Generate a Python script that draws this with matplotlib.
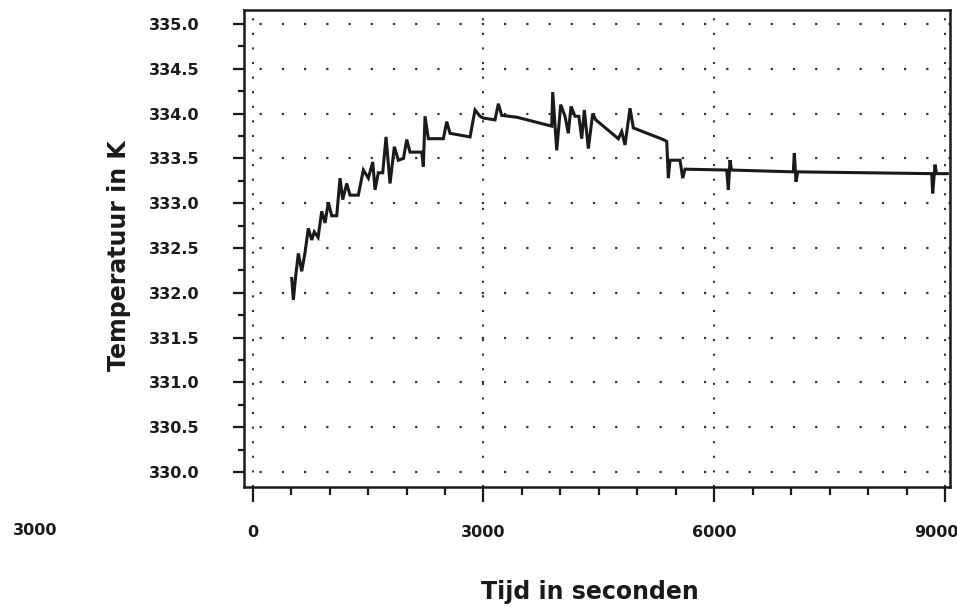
import matplotlib
matplotlib.use('Agg')
from matplotlib import pyplot as plt
from matplotlib.ticker import MultipleLocator, FixedLocator
from matplotlib.transforms import ScaledTranslation

time_s = [507, 528, 560, 593, 637, 680, 723, 767, 800, 850, 897, 940, 983, 1027,
          1092, 1135, 1170, 1222, 1265, 1373, 1438, 1503, 1560, 1590, 1633, 1690,
          1733, 1785, 1841, 1893, 1960, 2002, 2045, 2197, 2218, 2240, 2283, 2478,
          2522, 2565, 2825, 2890, 2955, 3000, 3150, 3193, 3237, 3432, 3887, 3900,
          3952, 4004, 4060, 4103, 4138, 4190, 4240, 4277, 4311, 4363, 4420, 4460,
          4753, 4797, 4840, 4905, 4948, 5338, 5382, 5403, 5425, 5555, 5590, 5620,
          6162, 6183, 6205, 6225, 7028, 7041, 7063, 7085, 8827, 8840, 8870, 8890,
          9030]
temp_K = [332.16, 331.92, 332.20, 332.44, 332.24, 332.45, 332.72, 332.59, 332.68,
          332.62, 332.91, 332.78, 333.01, 332.86, 332.86, 333.28, 333.04, 333.22,
          333.09, 333.09, 333.37, 333.28, 333.46, 333.15, 333.34, 333.34, 333.74,
          333.22, 333.63, 333.48, 333.50, 333.71, 333.57, 333.57, 333.41, 333.97,
          333.72, 333.72, 333.91, 333.78, 333.74, 334.04, 333.97, 333.95, 333.93,
          334.11, 333.98, 333.96, 333.86, 334.24, 333.59, 334.10, 333.97, 333.78,
          334.08, 333.97, 333.97, 333.72, 334.04, 333.61, 334.00, 333.93, 333.72,
          333.80, 333.65, 334.06, 333.84, 333.71, 333.69, 333.28, 333.48, 333.48,
          333.28, 333.38, 333.37, 333.15, 333.48, 333.37, 333.35, 333.56, 333.24,
          333.35, 333.33, 333.11, 333.43, 333.33, 333.33]

x_ticks = [0, 3000, 6000, 9000]
x_tick_labels = ['0', '3000', '6000', '9000']
y_ticks = [330.0, 330.5, 331.0, 331.5, 332.0, 332.5, 333.0, 333.5, 334.0, 334.5, 335.0]

ink = '#1a1a1a'
plt.rcParams['font.family'] = ['DejaVu Sans']

fig = plt.figure(figsize=(9.57, 6.10), dpi=100, facecolor='white')
ax = fig.add_axes([0.255, 0.2016, 0.7377, 0.782])

ax.plot(time_s, temp_K, '-', color=ink, lw=2.2, solid_joinstyle='miter')

ax.set_xlim(-113, 9065)
ax.set_ylim(329.833, 335.156)

ax.xaxis.set_major_locator(FixedLocator(x_ticks))
ax.xaxis.set_minor_locator(MultipleLocator(500))
ax.set_xticklabels(x_tick_labels)
ax.yaxis.set_major_locator(FixedLocator(y_ticks))
ax.yaxis.set_minor_locator(MultipleLocator(0.25))
ax.set_yticklabels([f'{v:.1f}' for v in y_ticks])

ax.tick_params(axis='x', which='major', direction='out', length=11, width=1.6,
               pad=16, labelsize=11.5, colors=ink)
ax.tick_params(axis='x', which='minor', direction='out', length=6, width=1.6, colors=ink)
ax.tick_params(axis='y', which='major', direction='out', length=8, width=1.6,
               pad=24, labelsize=11.5, colors=ink)
ax.tick_params(axis='y', which='minor', direction='out', length=4, width=1.6, colors=ink)
for lab in ax.get_xticklabels() + ax.get_yticklabels():
    lab.set_fontweight('bold')

# last x label sits against the right edge, pull it in a little
last = ax.get_xticklabels()[-1]
last.set_transform(last.get_transform() + ScaledTranslation(-0.09, 0, fig.dpi_scale_trans))

for s in ax.spines.values():
    s.set_linewidth(1.8)
    s.set_color(ink)

# dotted grid, finer dot spacing on the vertical lines
ax.yaxis.grid(True, which='major', color='#333333', lw=1.6, linestyle=(3, (1, 9)))
ax.xaxis.grid(True, which='major', color='#333333', lw=1.5, linestyle=(0, (1, 6)))

ax.set_ylabel('Temperatuur in K', fontsize=17, fontweight='bold', color=ink)
ax.yaxis.set_label_coords(-0.16, 0.485)
ax.set_xlabel('Tijd in seconden', fontsize=17, fontweight='bold', color=ink)
ax.xaxis.set_label_coords(0.49, -0.195)

fig.text(0.037, 0.131, '3000', fontsize=11.5, fontweight='bold', color=ink,
         ha='center', va='center')

plt.savefig('out.png', dpi=100, facecolor='white')
